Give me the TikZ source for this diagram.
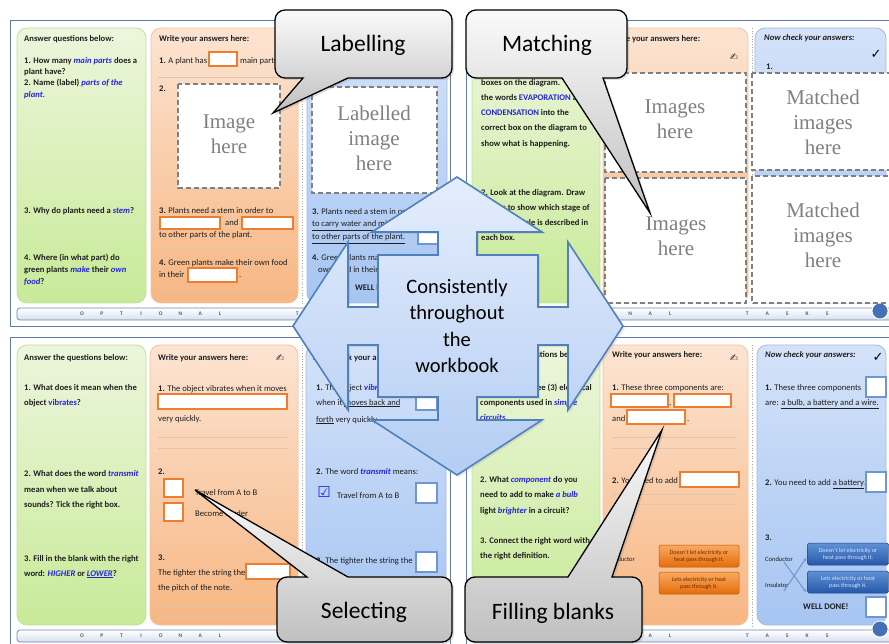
\documentclass[tikz,border=0pt]{standalone}
\usepackage{fontspec}
\setmainfont{Carlito}
\newfontfamily\imgfont{Liberation Serif}
\newfontfamily\symfont{DejaVu Sans}
\usetikzlibrary{arrows.meta,shadows}

\definecolor{gTop}{RGB}{236,246,220}
\definecolor{gBot}{RGB}{200,234,152}
\definecolor{gLine}{RGB}{196,222,160}
\definecolor{oTop}{RGB}{252,228,210}
\definecolor{oBot}{RGB}{247,182,130}
\definecolor{oLine}{RGB}{242,196,160}
\definecolor{bTop}{RGB}{212,226,249}
\definecolor{bBot}{RGB}{166,197,242}
\definecolor{bLine}{RGB}{160,188,230}
\definecolor{frameC}{RGB}{96,124,168}
\definecolor{boxO}{RGB}{237,125,49}
\definecolor{boxB}{RGB}{110,150,208}
\definecolor{kwC}{RGB}{35,35,225}
\definecolor{imgGray}{RGB}{128,128,128}
\definecolor{sepC}{RGB}{226,196,172}
\definecolor{barBot}{RGB}{214,224,240}
\definecolor{barLine}{RGB}{112,134,172}
\definecolor{barText}{RGB}{90,90,100}
\definecolor{qTop}{RGB}{228,237,252}
\definecolor{qBot}{RGB}{180,205,243}
\definecolor{qLine}{RGB}{79,129,189}
\definecolor{cTop}{RGB}{250,250,250}
\definecolor{cBot}{RGB}{192,192,192}
\definecolor{obTop}{RGB}{250,170,95}
\definecolor{obBot}{RGB}{228,108,10}
\definecolor{obText}{RGB}{110,40,0}
\definecolor{bbTop}{RGB}{95,145,215}
\definecolor{bbBot}{RGB}{38,88,168}
\definecolor{bbText}{RGB}{215,230,255}
\definecolor{pgC}{RGB}{70,112,180}
\definecolor{txtC}{RGB}{30,30,30}

\newcommand\smallbf{\fontsize{8.6}{10}\selectfont\bfseries}
\newcommand\smallrm{\fontsize{8.6}{10}\selectfont}
\newcommand\tinyrm{\fontsize{6.5}{7.5}\selectfont}
\newcommand\kwd[1]{\textcolor{kwC}{\textbf{\textit{#1}}}}
\newcommand\bl[1]{\makebox[19.7pt][c]{#1}}
\newcommand\blt[1]{\makebox[20pt][c]{#1}}

\begin{document}
\begin{tikzpicture}[x=1pt,y=-1pt,
  tx/.style={anchor=base west, inner sep=0pt, text=txtC, font=\smallbf},
  txr/.style={anchor=base west, inner sep=0pt, text=txtC, font=\smallrm},
  gpanel/.style={rounded corners=10pt, draw=gLine, line width=0.8pt, top color=gTop, bottom color=gBot},
  opanel/.style={rounded corners=10pt, draw=oLine, line width=0.8pt, top color=oTop, bottom color=oBot},
  bpanel/.style={rounded corners=10pt, draw=bLine, line width=0.8pt, top color=bTop, bottom color=bBot},
  pageframe/.style={draw=frameC, line width=0.8pt, fill=white},
  obox/.style={draw=boxO, line width=1.1pt, fill=white},
  bbox/.style={draw=boxB, line width=1.1pt, fill=white},
  imgbox/.style={draw=imgGray, dash pattern=on 5pt off 3pt, line width=1.4pt, fill=white},
  imgtxt/.style={font=\imgfont\fontsize{21}{25}\selectfont, text=imgGray, align=center, inner sep=0pt},
  sepline/.style={draw=sepC, line width=0.6pt},
  foldline/.style={draw=gray!70, dotted, line width=0.7pt},
  wbbar/.style={rounded corners=3pt, draw=barLine, line width=0.7pt, top color=white, bottom color=barBot},
  bartext/.style={anchor=west, inner sep=0pt, font=\fontsize{5.5}{6}\selectfont\bfseries, text=barText},
  calloutshape/.style={draw=black, line width=1.3pt, top color=cTop, bottom color=cBot,
    drop shadow={opacity=0.25, shadow xshift=2pt, shadow yshift=-2pt}},
  calltext/.style={font=\fontsize{23.5}{28}\selectfont, text=black, inner sep=0pt},
  quadarrow/.style={draw=qLine, line width=1.6pt, line join=miter, top color=qTop, bottom color=qBot,
    drop shadow={opacity=0.18, shadow xshift=2pt, shadow yshift=-2pt}},
  icon/.style={font=\symfont\fontsize{10}{10}\selectfont, inner sep=0pt, text=black!80},
  sym/.style={font=\symfont\fontsize{13}{13}\selectfont, inner sep=0pt, text=black},
  obtn/.style={rounded corners=1.5pt, draw=obBot!80!black, line width=0.5pt, top color=obTop, bottom color=obBot,
    minimum width=80pt, minimum height=22pt, inner sep=0pt, align=center, text=obText, font=\fontsize{6}{7}\selectfont},
  bbtn/.style={rounded corners=1.5pt, draw=bbBot!80!black, line width=0.5pt, top color=bbTop, bottom color=bbBot,
    minimum width=81pt, minimum height=22pt, inner sep=0pt, align=center, text=bbText, font=\fontsize{6}{7}\selectfont},
  crossarr/.style={draw=boxB, line width=1pt, -{Stealth[length=3pt,width=3pt]}},
  pagenum/.style={circle, fill=pgC, draw=white, line width=0.8pt, minimum size=16pt, inner sep=0pt}
]
\useasboundingbox (0,0) rectangle (889,644);
\begin{scope}
\clip (0,0) rectangle (889,644);
\fill[white] (0,0) rectangle (889,644);

%================ TOP-LEFT SPREAD =================
\draw[pageframe] (10,20) rectangle (450,326);
\path[gpanel] (17,28) rectangle (146,303);
\path[opanel] (151,28) rectangle (298,303);
\draw[foldline] (302,28) -- (302,304);
\path[bpanel] (307,28) rectangle (447,303);
\path[wbbar] (17,308) rectangle (445,320);
\node[bartext] (barTL1) at (72,314) {\bl{O}\bl{P}\bl{T}\bl{I}\bl{O}\bl{N}\bl{A}\bl{L}};
\node[bartext] (barTL2) at (287,314) {\blt{T}\blt{A}\blt{S}\blt{K}\blt{S}};

\node[tx] (tlg0) at (24,42) {Answer questions below:};
\node[tx] (tlg1) at (24,64) {1. How many \kwd{main parts} does a};
\node[tx] (tlg2) at (24,75) {plant have?};
\node[tx] (tlg3) at (24,86) {2. Name (label) \kwd{parts of the}};
\node[tx] (tlg4) at (24,98) {\kwd{plant.}};
\node[tx] (tlg5) at (24,214) {3. Why do plants need a \kwd{stem}?};
\node[tx] (tlg6) at (24,261) {4. Where (in what part) do};
\node[tx] (tlg7) at (24,273) {green plants \kwd{make} their \kwd{own}};
\node[tx] (tlg8) at (24,285) {\kwd{food}?};

\node[tx] (tlo0) at (159,42) {Write your answers here:};
\node[txr] (tlo1) at (159,64) {\textbf{1.} A plant has};
\draw[obox] (209,52) rectangle (237,66);
\node[txr] (tlo2) at (240,64) {main parts};
\draw[sepline] (158,77) -- (292,77);
\node[tx] (tlo3) at (159,92) {2.};
\draw[imgbox] (178,84) rectangle (280,188);
\node[imgtxt] (tloimg) at (229,134) {Image\\here};
\node[txr] (tlo4) at (159,214) {\textbf{3.} Plants need a stem in order to};
\draw[obox] (160,217) rectangle (220,229);
\node[txr] (tlo5) at (225,226) {and};
\draw[obox] (242,217) rectangle (293,229);
\node[txr] (tlo6) at (159,238) {to other parts of the plant.};
\draw[sepline] (158,249) -- (292,249);
\node[txr] (tlo7) at (159,266) {\textbf{4.} Green plants make their own food};
\node[txr] (tlo8) at (159,278) {in their};
\draw[obox] (188,268) rectangle (237,282);
\node[txr] (tlo9) at (239,278) {.};
\draw[sepline] (158,290) -- (292,290);

\draw[imgbox] (312,87) rectangle (437,193);
\node[imgtxt] (tlbimg) at (374,138) {Labelled\\image\\here};
\node[txr] (tlb1) at (312,215) {\textbf{3.} Plants need a stem in order};
\node[txr] (tlb2) at (312,227) {\underline{to carry water and minerals}};
\node[txr] (tlb3) at (312,240) {\underline{to other parts of the plant.}};
\draw[bbox] (418,232) rectangle (440,244);
\node[txr] (tlb4) at (312,261) {\textbf{4.} Green plants make their};
\node[txr] (tlb5) at (318,273) {own food in their};
\node[tx] (tlb6) at (355,291) {WELL DONE!};

%================ TOP-RIGHT SPREAD =================
\draw[pageframe] (466,20) rectangle (895,326);
\path[gpanel] (472,28) rectangle (600,303);
\path[opanel] (603,28) rectangle (748,303);
\draw[foldline] (752,28) -- (752,304);
\path[bpanel] (755,28) rectangle (886,303);
\path[wbbar] (471,308) rectangle (895,320);
\node[bartext] (barTR1) at (520,314) {\blt{O}\blt{P}\blt{T}\blt{I}\blt{O}\blt{N}\blt{A}\blt{L}};
\node[bartext] (barTR2) at (737,314) {\blt{T}\blt{A}\blt{S}\blt{K}\blt{S}};
\node[pagenum] (pgTR) at (880,311) {};

\node[tx] (trg1) at (481,86) {boxes on the diagram.};
\node[tx] (trg2) at (481,101) {the words \textcolor{kwC}{EVAPORATION} and};
\node[tx] (trg3) at (481,116) {\textcolor{kwC}{CONDENSATION} into the};
\node[tx] (trg4) at (481,131) {correct box on the diagram to};
\node[tx] (trg5) at (481,147) {show what is happening.};
\node[tx] (trg6) at (481,196) {2. Look at the diagram. Draw};
\node[tx] (trg7) at (481,211) {arrows to show which stage of};
\node[tx] (trg8) at (481,226) {the water cycle is described in};
\node[tx] (trg9) at (481,241) {each box.};

\node[tx] (tro0) at (610,42) {Write your answers here:};
\node[icon] (troi) at (734,57) {✍};
\draw[imgbox] (605,73) rectangle (746,172);
\node[imgtxt] (troimg1) at (675,119) {Images\\here};
\draw[imgbox] (605,178) rectangle (746,303);
\node[imgtxt] (troimg2) at (676,236) {Images\\here};

\node[tx, font=\smallbf\itshape] (trb0) at (764,41) {Now check your answers:};
\node[sym] (trbck) at (876,54) {✓};
\node[tx] (trb1) at (766,70) {1.};
\draw[imgbox] (752,73) rectangle (893,170);
\node[imgtxt] (trbimg1) at (823,122) {Matched\\images\\here};
\draw[imgbox] (752,176) rectangle (893,303);
\node[imgtxt] (trbimg2) at (823,235) {Matched\\images\\here};

%================ BOTTOM-LEFT SPREAD =================
\draw[pageframe] (10,337) rectangle (450,660);
\path[gpanel] (17,345) rectangle (146,625);
\path[opanel] (150,345) rectangle (298,625);
\draw[foldline] (302,345) -- (302,626);
\path[bpanel] (306,345) rectangle (446,625);
\path[wbbar] (17,630) rectangle (445,642);
\node[bartext] (barBL1) at (72,636) {\bl{O}\bl{P}\bl{T}\bl{I}\bl{O}\bl{N}\bl{A}\bl{L}};
\node[bartext] (barBL2) at (287,636) {\blt{T}\blt{A}\blt{S}\blt{K}\blt{S}};

\node[tx] (blg0) at (24,360) {Answer the questions below:};
\node[tx] (blg1) at (24,390) {1. What does it mean when the};
\node[tx] (blg2) at (24,405) {object \textcolor{kwC}{vibrates}?};
\node[tx] (blg3) at (24,476) {2. What does the word \kwd{transmit}};
\node[tx] (blg4) at (24,492) {mean when we talk about};
\node[tx] (blg5) at (24,507) {sounds? Tick the right box.};
\node[tx] (blg6) at (24,561) {3. Fill in the blank with the right};
\node[tx] (blg7) at (24,576) {word: \kwd{HIGHER} or \kwd{\underline{LOWER}}?};

\node[tx] (blo0) at (158,360) {Write your answers here:};
\node[icon] (bloi) at (280,358) {✍};
\node[txr] (blo1) at (158,391) {\textbf{1.} The object vibrates when it moves};
\draw[obox] (158,394) rectangle (287,409);
\node[txr] (blo2) at (158,421) {very quickly.};
\draw[sepline] (158,437) -- (287,437);
\draw[sepline] (158,448) -- (287,448);
\node[tx] (blo3) at (158,474) {2.};
\draw[obox] (164,479) rectangle (183,497);
\node[txr] (blo4) at (195,495) {Travel from A to B};
\draw[obox] (164,503) rectangle (183,521);
\node[txr] (blo5) at (195,516) {Become louder};
\node[tx] (blo6) at (158,560) {3.};
\node[txr] (blo7) at (158,575) {The tighter the string the};
\draw[obox] (246,564) rectangle (290,579);
\node[txr] (blo8) at (158,590) {the pitch of the note.};
\draw[sepline] (158,606) -- (287,606);
\draw[sepline] (158,617) -- (287,617);

\node[tx] (blb0) at (313,360) {Now check your answers:};
\node[txr] (blb1) at (316,390) {\textbf{1.} The object \kwd{vibrates}};
\node[txr] (blb2) at (316,405) {when it \underline{moves back and}};
\node[txr] (blb3) at (316,422) {\underline{forth} very quickly.};
\draw[bbox] (416,390) rectangle (437,410);
\node[txr] (blb4) at (316,474) {\textbf{2.} The word \kwd{transmit} means:};
\node[sym, text=kwC, font=\symfont\fontsize{15}{15}\selectfont] (blbchk) at (324,492) {☑};
\node[txr] (blb5) at (337,498) {Travel from A to B};
\draw[bbox] (416,483) rectangle (437,503);
\node[txr] (blb6) at (316,563) {\textbf{3.} The tighter the string the};
\draw[bbox] (416,552) rectangle (437,572);

%================ BOTTOM-RIGHT SPREAD =================
\draw[pageframe] (466,337) rectangle (895,660);
\path[gpanel] (472,345) rectangle (600,625);
\path[opanel] (603,345) rectangle (748,625);
\draw[foldline] (752,345) -- (752,626);
\path[bpanel] (757,345) rectangle (886,625);
\path[wbbar] (471,630) rectangle (895,642);
\node[bartext] (barBR1) at (520,636) {\blt{O}\blt{P}\blt{T}\blt{I}\blt{O}\blt{N}\blt{A}\blt{L}};
\node[bartext] (barBR2) at (737,636) {\blt{T}\blt{A}\blt{S}\blt{K}\blt{S}};
\node[pagenum] (pgBR) at (880,629) {};

\node[tx] (brg0) at (480,358) {Answer the questions below:};
\node[tx] (brg1) at (480,390) {1. Name the three (3) electrical};
\node[tx] (brg2) at (480,405) {components used in \kwd{simple}};
\node[tx] (brg3) at (480,420) {\kwd{circuits}.};
\node[tx] (brg4) at (480,482) {2. What \kwd{component} do you};
\node[tx] (brg5) at (480,497) {need to add to make \kwd{a bulb}};
\node[tx] (brg6) at (480,513) {light \kwd{brighter} in a circuit?};
\node[tx] (brg7) at (480,543) {3. Connect the right word with};
\node[tx] (brg8) at (480,558) {the right definition.};

\node[tx] (bro0) at (612,358) {Write your answers here:};
\node[icon] (broi) at (734,358) {✍};
\node[txr] (bro1) at (612,390) {\textbf{1.} These three components are:};
\draw[obox] (611,394) rectangle (668,407);
\node[txr] (bro2) at (669,405) {,};
\draw[obox] (674,394) rectangle (731,407);
\node[txr] (bro3) at (612,421) {and};
\draw[obox] (627,410) rectangle (685,424);
\node[txr] (bro4) at (687,421) {.};
\draw[sepline] (612,437) -- (736,437);
\draw[sepline] (612,448) -- (736,448);
\node[txr] (bro5) at (612,483) {\textbf{2.} You need to add};
\draw[obox] (680,472) rectangle (739,487);
\draw[sepline] (612,494) -- (736,494);
\draw[sepline] (612,504) -- (736,504);
\node[txr, font=\tinyrm] (bro6) at (607,561) {Conductor};
\node[obtn] (brobtn1) at (699,556) {Doesn't let electricity or\\heat pass through it.};
\node[obtn] (brobtn2) at (699,583) {Lets electricity or heat\\pass through it.};

\node[tx, font=\smallbf\itshape] (brb0) at (765,358) {Now check your answers:};
\node[sym] (brbck) at (878,357) {✓};
\node[txr] (brb1) at (765,390) {\textbf{1.} These three components};
\draw[bbox] (866,377) rectangle (886,397);
\node[txr] (brb2) at (765,405) {are: \underline{a bulb, a battery and a wire.}};
\node[txr] (brb3) at (765,485) {\textbf{2.} You need to add \underline{a battery}.};
\draw[bbox] (866,472) rectangle (886,492);
\node[tx] (brb4) at (765,540) {3.};
\node[txr, font=\tinyrm] (brb5) at (765,561) {Conductor};
\node[txr, font=\tinyrm] (brb6) at (765,587) {Insulator};
\node[bbtn] (brbbtn1) at (848,554) {Doesn't let electricity or\\heat pass through it.};
\node[bbtn] (brbbtn2) at (848,582) {Lets electricity or heat\\pass through it.};
\coordinate (xa1) at (784,591);
\coordinate (xb1) at (806,558);
\coordinate (xa2) at (784,562);
\coordinate (xb2) at (806,592);
\draw[crossarr] (xa1) -- (xb1);
\draw[crossarr] (xa2) -- (xb2);
\node[tx] (brb7) at (803,609) {WELL DONE!};
\draw[bbox] (866,597) rectangle (886,617);

%================ CENTRAL QUAD ARROW =================
\path[quadarrow] (457,177) -- (542,232) -- (477,232) -- (477,255) -- (538,255) -- (538,307)
  -- (568,307) -- (568,242) -- (623,326) -- (568,410) -- (568,345) -- (538,345) -- (538,397)
  -- (477,397) -- (477,420) -- (542,420) -- (457,475) -- (372,420) -- (438,420) -- (438,397)
  -- (378,397) -- (378,345) -- (348,345) -- (348,410) -- (293,326) -- (348,242) -- (348,307)
  -- (378,307) -- (378,255) -- (438,255) -- (438,232) -- (372,232) -- cycle;
\node[align=center, inner sep=0pt, font=\fontsize{20.5}{26.3}\selectfont, text=black] (quadtxt) at (457,326)
  {Consistently\\throughout\\the\\workbook};

%================ CALLOUTS =================
\coordinate (labtip) at (273,113);
\path[calloutshape] (285,10) -- (442,10) .. controls (447.5,10) and (452,14.5) .. (452,20)
  -- (452,68) .. controls (452,73.5) and (447.5,78) .. (442,78)
  -- (348,78) -- (labtip) -- (303,78)
  -- (285,78) .. controls (279.5,78) and (275,73.5) .. (275,68)
  -- (275,20) .. controls (275,14.5) and (279.5,10) .. (285,10) -- cycle;
\node[calltext] (labtxt) at (363,45) {Labelling};

\coordinate (mattip) at (650,213);
\path[calloutshape] (476,10) -- (617,10) .. controls (622.5,10) and (627,14.5) .. (627,20)
  -- (627,68) .. controls (627,73.5) and (622.5,78) .. (617,78)
  -- (603,78) -- (mattip) -- (562,78)
  -- (476,78) .. controls (470.5,78) and (466,73.5) .. (466,68)
  -- (466,20) .. controls (466,14.5) and (470.5,10) .. (476,10) -- cycle;
\node[calltext] (mattxt) at (547,45) {Matching};

\coordinate (seltip) at (195,490);
\path[calloutshape] (287,577) -- (307,577) -- (seltip) -- (348,577) -- (442,577)
  .. controls (447.5,577) and (452,581.5) .. (452,587)
  -- (452,632) .. controls (452,637.5) and (447.5,642) .. (442,642)
  -- (287,642) .. controls (281.5,642) and (277,637.5) .. (277,632)
  -- (277,587) .. controls (277,581.5) and (281.5,577) .. (287,577) -- cycle;
\node[calltext] (seltxt) at (364,612) {Selecting};

\coordinate (filtip) at (662,430);
\path[calloutshape] (475,577) -- (568,577) -- (filtip) -- (612,577) -- (632,577)
  .. controls (637.5,577) and (642,581.5) .. (642,587)
  -- (642,632) .. controls (642,637.5) and (637.5,642) .. (632,642)
  -- (475,642) .. controls (469.5,642) and (465,637.5) .. (465,632)
  -- (465,587) .. controls (465,581.5) and (469.5,577) .. (475,577) -- cycle;
\node[calltext] (filtxt) at (553,613) {Filling blanks};
\end{scope}
\end{tikzpicture}
\end{document}
